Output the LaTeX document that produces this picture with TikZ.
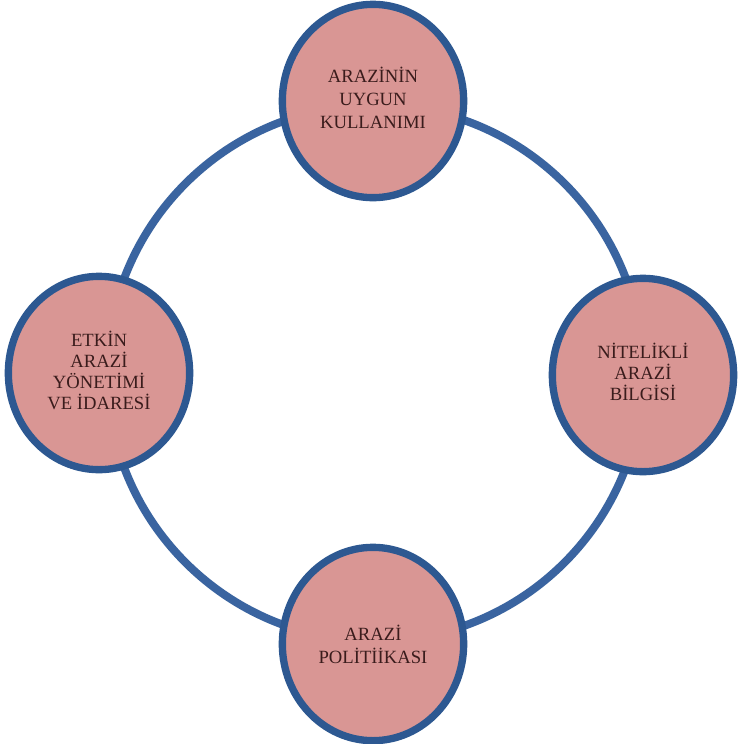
\documentclass[tikz,border=0pt]{standalone}
\usepackage{fontspec}
\setmainfont{Liberation Serif}
\usetikzlibrary{shapes.geometric}

\definecolor{petal}{HTML}{D99694}
\definecolor{rim}{HTML}{2D5891}
\definecolor{ringblue}{HTML}{3A64A0}
\definecolor{ink}{HTML}{3A1C1C}

\tikzset{
  ringline/.style={circle, draw=ringblue, line width=6pt, minimum size=402pt, inner sep=0pt},
  hub/.style={ellipse, draw=rim, fill=petal, line width=5.5pt,
              minimum width=136pt, minimum height=145pt, inner sep=0pt,
              align=center, text=ink, font=\fontsize{14}{17.3}\selectfont},
  hubtight/.style={hub, font=\fontsize{14}{14.4}\selectfont}
}

\begin{document}
\begin{tikzpicture}[x=0.75pt, y=-0.75pt]
  \useasboundingbox (0,0) rectangle (739,744);
  \fill[white] (0,0) rectangle (739,744);

  % the loop joining the four topics
  \node[ringline] (ring) at (375,373) {};

  % the four topics
  \node[hub] (use) at (373,101) {\raisebox{-5pt}{\begin{tabular}{@{}c@{}}ARAZİNİN\\UYGUN\\KULLANIMI\end{tabular}}};
  \node[hubtight] (manage) at (99,373) {\raisebox{4pt}{\begin{tabular}{@{}c@{}}ETKİN\\ARAZİ\\YÖNETİMİ\\VE İDARESİ\end{tabular}}};
  \node[hubtight] (info) at (643,375) {\raisebox{4pt}{\begin{tabular}{@{}c@{}}NİTELİKLİ\\ARAZİ\\BİLGİSİ\end{tabular}}};
  \node[hub] (policy) at (373,644) {ARAZİ\\POLİTİİKASI};
\end{tikzpicture}
\end{document}
